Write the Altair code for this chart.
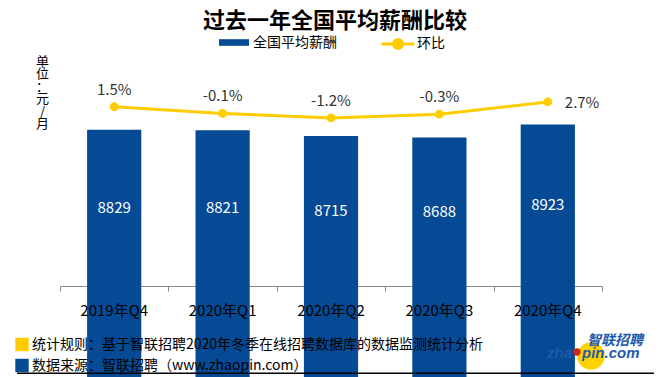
import altair as alt
import pandas as pd

quarters = ["2019年Q4", "2020年Q1", "2020年Q2", "2020年Q3", "2020年Q4"]
salary = [8829, 8821, 8715, 8688, 8923]
mom = [1.5, -0.1, -1.2, -0.3, 2.7]

title_text = "过去一年全国平均薪酬比较"
bar_name = "全国平均薪酬"
line_name = "环比"
unit_lines = ["单", "位", "：", "元", "/", "月"]
note1 = "统计规则：基于智联招聘2020年冬季在线招聘数据库的数据监测统计分析"
note2 = "数据来源：智联招聘（www.zhaopin.com）"
logo_cn = "智联招聘"
logo_a = "zha"
logo_b = "pin.com"

BLUE = "#044A94"
YELLOW = "#FFCC00"
FONT = "Noto Sans CJK SC"

df = pd.DataFrame({"q": quarters, "salary": salary, "mom": mom})
last_q = quarters[-1]

W, H = 542, 221

x_enc = alt.X(
    "q:N", sort=quarters,
    scale=alt.Scale(paddingInner=0, paddingOuter=0),
    axis=alt.Axis(title=None, tickBand="extent", domainColor="#898989", tickColor="#898989",
                  tickSize=5, labels=False, grid=False),
)

base = alt.Chart(df)

bars = base.transform_calculate(s=f"'{bar_name}'").mark_bar(
    width=alt.RelativeBandSize(0.5)
).encode(
    x=x_enc,
    y=alt.Y("salary:Q", scale=alt.Scale(domain=[6000, 10000], zero=False, nice=False),
            axis=alt.Axis(labels=False, ticks=False, domain=False, grid=False, title=unit_lines,
                          titleAngle=0, titleX=-18, titleY=-10, titleAlign="center",
                          titleBaseline="top", titleFontSize=13, titleFontWeight="normal",
                          titleFont=FONT, titleLineHeight=12.5, titleColor="#000000")),
    fill=alt.Fill("s:N", scale=alt.Scale(domain=[bar_name], range=[BLUE]),
                  legend=alt.Legend(orient="none", legendX=159, legendY=-37.5, title=None,
                                    symbolType="M-1,-0.22H1V0.22H-1Z", symbolSize=900,
                                    symbolStrokeWidth=0, labelFontSize=14, labelFont=FONT,
                                    labelColor="#000000", labelOffset=4, padding=0)),
)

bar_text = base.transform_calculate(mid="(datum.salary + 6000) / 2").mark_text(
    color="white", fontSize=15, font=FONT, baseline="middle"
).encode(
    x=x_enc,
    y=alt.Y("mid:Q", scale=alt.Scale(domain=[6000, 10000], zero=False, nice=False)),
    text=alt.Text("salary:Q", format="d"),
)

left = alt.layer(bars, bar_text)

cat_labels = base.mark_text(fontSize=15, font=FONT, color="#000000", baseline="middle").encode(
    x=x_enc, y=alt.value(H + 25), text="q:N"
)

y_line = alt.Y("mom:Q", scale=alt.Scale(domain=[-42.2, 11.7], nice=False, zero=False), axis=None)

line = base.transform_calculate(l=f"'{line_name}'").mark_line(strokeWidth=3).encode(
    x=x_enc,
    y=y_line,
    stroke=alt.Stroke("l:N", scale=alt.Scale(domain=[line_name], range=[YELLOW]),
                      legend=alt.Legend(orient="none", legendX=320, legendY=-39, title=None,
                                        symbolType="M-1,0H1M0.28,0A0.28,0.28,0,1,1,-0.28,0A0.28,0.28,0,1,1,0.28,0",
                                        symbolSize=1089, symbolStrokeWidth=3,
                                        symbolFillColor=YELLOW, labelFontSize=14, labelFont=FONT,
                                        labelColor="#000000", labelOffset=1, padding=0)),
)

points = base.mark_circle(size=80, color=YELLOW, opacity=1).encode(x=x_enc, y=y_line)

lab_expr = "datum.mom + '%'"
labels = base.transform_filter(f"datum.q != '{last_q}'").transform_calculate(t=lab_expr).mark_text(
    fontSize=15, font=FONT, color="#333333", dy=-17, baseline="middle"
).encode(x=x_enc, y=y_line, text="t:N")

label_last = base.transform_filter(f"datum.q == '{last_q}'").transform_calculate(t=lab_expr).mark_text(
    fontSize=15, font=FONT, color="#333333", dx=17, dy=1, align="left", baseline="middle"
).encode(x=x_enc, y=y_line, text="t:N")

right = alt.layer(line, points, labels, label_last)

one = pd.DataFrame({"k": [0]})
deco = alt.Chart(one)

title = deco.mark_text(fontSize=22, fontWeight="bold", font=FONT, align="center",
                       baseline="middle", color="#000000", text=title_text).encode(
    x=alt.value(275), y=alt.value(-44))

sq1 = deco.mark_square(size=180, color=YELLOW, opacity=1).encode(x=alt.value(-38), y=alt.value(279.5))
sq2 = deco.mark_square(size=180, color=BLUE, opacity=1).encode(x=alt.value(-38), y=alt.value(300.5))
n1 = deco.mark_text(fontSize=14, font=FONT, align="left", baseline="middle", color="#000000",
                    text=note1).encode(x=alt.value(-28), y=alt.value(280))
n2 = deco.mark_text(fontSize=14, font=FONT, align="left", baseline="middle", color="#000000",
                    text=note2).encode(x=alt.value(-28), y=alt.value(301))
bottom_line = deco.mark_rect(color="#000000", opacity=1).encode(
    x=alt.value(-43), x2=alt.value(594), y=alt.value(307.5), y2=alt.value(309))

logo_ball = deco.mark_circle(size=750, color="#FFD200", opacity=1).encode(
    x=alt.value(531), y=alt.value(291))
logo_red = deco.mark_circle(size=55, color="#D8261C", opacity=1).encode(
    x=alt.value(517), y=alt.value(287))
logo_t1 = deco.mark_text(fontSize=14, fontWeight="bold", fontStyle="italic", font=FONT,
                         color="#1F5AAA", align="center", baseline="middle", text=logo_cn).encode(
    x=alt.value(555), y=alt.value(276))
logo_t2 = deco.mark_text(fontSize=15, fontWeight="bold", fontStyle="italic", font="Liberation Sans",
                         color="#1F5AAA", align="right", baseline="middle", text=logo_a).encode(
    x=alt.value(512), y=alt.value(288))
logo_t3 = deco.mark_text(fontSize=15, fontWeight="bold", fontStyle="italic", font="Liberation Sans",
                         color="#1F5AAA", align="left", baseline="middle", text=logo_b).encode(
    x=alt.value(522), y=alt.value(288))

chart = alt.layer(
    left, right, title, sq1, sq2, n1, n2, bottom_line, logo_ball, logo_red, logo_t1, logo_t2,
    logo_t3, cat_labels
).resolve_scale(
    y="independent"
).properties(
    width=W, height=H,
    autosize=alt.AutoSizeParams(type="none"),
    padding={"left": 52, "top": 57, "right": 59, "bottom": 91},
    background="white",
).configure_view(stroke=None)

chart.save("out.html", embed_options={"renderer": "svg", "actions": False})
